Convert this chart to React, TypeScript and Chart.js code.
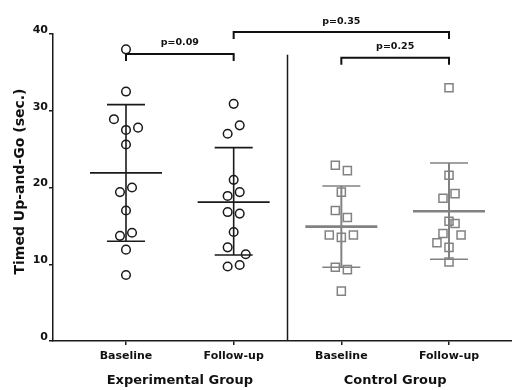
import React, { useEffect, useRef } from "react";
import { Chart, registerables } from "chart.js";

Chart.register(...registerables);

// ---- data ----
const groupPositions = [1, 2, 3, 4];
const tickLabels = ["Baseline", "Follow-up", "Baseline", "Follow-up"];
const groupNames = ["Experimental Group", "Control Group"];
const groupNamePositions = [1.5, 3.5];
const yTitle = "Timed Up-and-Go (sec.)";

const expBaseline = [38.0, 32.5, 28.9, 27.5, 27.8, 25.6, 19.4, 20.0, 17.0, 13.7, 14.1, 11.9, 8.6];
const expBaselineJitter = [0, 0, -2, 0, 2, 0, -1, 1, 0, -1, 1, 0, 0];
const expFollowUp = [30.9, 27.0, 28.1, 21.0, 18.9, 19.4, 16.8, 16.6, 14.2, 12.2, 11.3, 9.7, 9.9];
const expFollowUpJitter = [0, -1, 1, 0, -1, 1, -1, 1, 0, -1, 2, -1, 1];
const ctlBaseline = [22.9, 22.2, 19.4, 17.0, 16.1, 13.8, 13.5, 13.8, 9.6, 9.3, 6.5];
const ctlBaselineJitter = [-1, 1, 0, -1, 1, -2, 0, 2, -1, 1, 0];
const ctlFollowUp = [33.0, 21.6, 19.2, 18.6, 15.6, 15.3, 14.0, 13.8, 12.8, 12.2, 10.3];
const ctlFollowUpJitter = [0, 0, 1, -1, 0, 1, -1, 2, -2, 0, 0];

const means = [21.9, 18.1, 14.9, 16.9];
const sdUpper = [30.8, 25.2, 20.2, 23.2];
const sdLower = [13.0, 11.2, 9.6, 10.65];

const bracketFrom = [1, 2, 3];
const bracketTo = [2, 4, 4];
const bracketLevel = [37.4, 40.25, 36.9];
const bracketLabels = ["p=0.09", "p=0.35", "p=0.25"];

const dividerX = 2.5;
const dividerTop = 37.3;

const yTicks = [0, 10, 20, 30, 40];

// ---- style ----
const FONT = "'DejaVu Sans', Arial, sans-serif";
const DARK = "#1a1a1a";
const GRAY = "#828282";
const JITTER_STEP = 0.056;

function buildPoints(values: number[], jitter: number[], pos: number) {
  return values.map((v, i) => ({ x: pos + jitter[i] * JITTER_STEP, y: v }));
}

const overlay = {
  id: "overlay",
  beforeDatasetsDraw(chart: any) {
    const { ctx, scales } = chart;
    const x = scales.x;
    const y = scales.y;
    ctx.save();
    // divider
    ctx.strokeStyle = DARK;
    ctx.lineWidth = 1.5;
    const dx = x.getPixelForValue(dividerX);
    ctx.beginPath();
    ctx.moveTo(dx, y.getPixelForValue(dividerTop));
    ctx.lineTo(dx, y.getPixelForValue(0));
    ctx.stroke();
    // mean & SD
    groupPositions.forEach((p, i) => {
      const cx = x.getPixelForValue(p);
      const ctl = i >= 2;
      ctx.strokeStyle = ctl ? GRAY : DARK;
      const yu = y.getPixelForValue(sdUpper[i]);
      const yl = y.getPixelForValue(sdLower[i]);
      const ym = y.getPixelForValue(means[i]);
      ctx.lineWidth = ctl ? 2 : 1.6;
      ctx.beginPath();
      ctx.moveTo(cx, yu);
      ctx.lineTo(cx, yl);
      ctx.stroke();
      ctx.lineWidth = 1.6;
      ctx.beginPath();
      ctx.moveTo(cx - 19, yu);
      ctx.lineTo(cx + 19, yu);
      ctx.moveTo(cx - 19, yl);
      ctx.lineTo(cx + 19, yl);
      ctx.stroke();
      ctx.lineWidth = ctl ? 2.6 : 1.8;
      ctx.beginPath();
      ctx.moveTo(cx - 36, ym);
      ctx.lineTo(cx + 36, ym);
      ctx.stroke();
    });
    ctx.restore();
  },
  afterDraw(chart: any) {
    const { ctx, scales } = chart;
    const x = scales.x;
    const y = scales.y;
    ctx.save();
    // brackets
    ctx.strokeStyle = "#111";
    ctx.lineWidth = 2;
    ctx.fillStyle = "#111";
    ctx.font = `bold 9.5px ${FONT}`;
    ctx.textAlign = "center";
    ctx.textBaseline = "middle";
    bracketFrom.forEach((f, i) => {
      const x1 = x.getPixelForValue(f);
      const x2 = x.getPixelForValue(bracketTo[i]);
      const yb = y.getPixelForValue(bracketLevel[i]);
      ctx.beginPath();
      ctx.moveTo(x1, yb + 7);
      ctx.lineTo(x1, yb);
      ctx.lineTo(x2, yb);
      ctx.lineTo(x2, yb + 7);
      ctx.stroke();
      ctx.fillText(bracketLabels[i], (x1 + x2) / 2, yb - 11);
    });
    // group names
    ctx.font = `bold 13px ${FONT}`;
    ctx.fillStyle = "#111";
    groupNames.forEach((g, i) => {
      ctx.fillText(g, x.getPixelForValue(groupNamePositions[i]), 381);
    });
    // y title
    ctx.font = `bold 14px ${FONT}`;
    ctx.translate(20, (y.top + y.bottom) / 2 - 6);
    ctx.rotate(-Math.PI / 2);
    ctx.fillText(yTitle, 0, 0);
    ctx.restore();
  },
};

export default function App() {
  const ref = useRef<HTMLCanvasElement>(null);
  useEffect(() => {
    if (!ref.current) return;
    const chart = new Chart(ref.current, {
      type: "scatter",
      data: {
        datasets: [
          { data: buildPoints(expBaseline, expBaselineJitter, groupPositions[0]), pointStyle: "circle", radius: 4.3, borderWidth: 1.5, borderColor: DARK, backgroundColor: "rgba(0,0,0,0)" },
          { data: buildPoints(expFollowUp, expFollowUpJitter, groupPositions[1]), pointStyle: "circle", radius: 4.3, borderWidth: 1.5, borderColor: DARK, backgroundColor: "rgba(0,0,0,0)" },
          { data: buildPoints(ctlBaseline, ctlBaselineJitter, groupPositions[2]), pointStyle: "rect", radius: 5.7, borderWidth: 1.5, borderColor: GRAY, backgroundColor: "rgba(0,0,0,0)" },
          { data: buildPoints(ctlFollowUp, ctlFollowUpJitter, groupPositions[3]), pointStyle: "rect", radius: 5.7, borderWidth: 1.5, borderColor: GRAY, backgroundColor: "rgba(0,0,0,0)" },
        ] as any,
      },
      options: {
        responsive: false,
        animation: false,
        layout: { autoPadding: false, padding: { top: 34, left: 0, right: 0, bottom: 0 } },
        plugins: { legend: { display: false }, tooltip: { enabled: false } },
        scales: {
          x: {
            type: "linear",
            min: 0.322,
            max: 4.585,
            afterBuildTicks: (s: any) => {
              s.ticks = groupPositions.map((v) => ({ value: v }));
            },
            afterFit: (s: any) => {
              s.height = 49;
              s.paddingLeft = 0;
              s.paddingRight = 0;
            },
            grid: { display: true, drawOnChartArea: false, drawTicks: true, tickLength: 4, color: DARK, lineWidth: 1.5 },
            border: { display: true, color: DARK, width: 1.5 },
            ticks: {
              padding: 5,
              color: "#111",
              font: { family: FONT, size: 11, weight: "bold" },
              callback: (v: any) => {
                const idx = groupPositions.indexOf(Number(v));
                return idx >= 0 ? tickLabels[idx] : "";
              },
            },
          },
          y: {
            type: "linear",
            min: 0,
            max: 40,
            afterBuildTicks: (s: any) => {
              s.ticks = yTicks.map((v) => ({ value: v }));
            },
            afterFit: (s: any) => {
              s.width = 53;
              s.paddingTop = 0;
              s.paddingBottom = 0;
            },
            grid: { display: true, drawOnChartArea: false, drawTicks: true, tickLength: 4, color: DARK, lineWidth: 1.5 },
            border: { display: true, color: DARK, width: 1.5 },
            ticks: {
              padding: 1,
              labelOffset: -4,
              color: "#111",
              font: { family: FONT, size: 11, weight: "bold" },
            },
          },
        },
      } as any,
      plugins: [overlay],
    });
    return () => chart.destroy();
  }, []);
  return (
    <div style={{ position: "fixed", left: 0, top: 0, width: 512, height: 390, background: "#fff" }}>
      <canvas ref={ref} width={512} height={390} style={{ display: "block" }} />
    </div>
  );
}
